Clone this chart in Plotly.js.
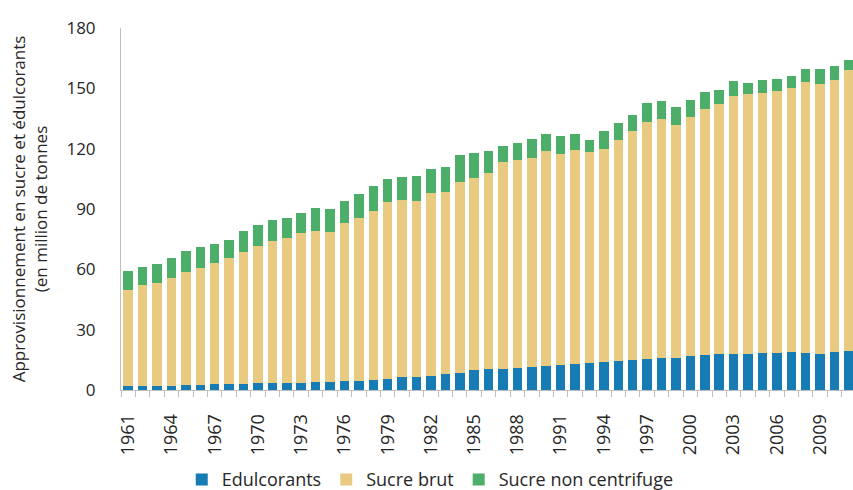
<!DOCTYPE html>
<html>
<head>
<meta charset="utf-8">
<script src="https://cdn.plot.ly/plotly-3.0.1.min.js"></script>
<style>html,body{margin:0;padding:0;background:#fff;}#chart{width:853px;height:490px;}</style>
</head>
<body>
<div id="chart"></div>
<script>
const years = [1961,1962,1963,1964,1965,1966,1967,1968,1969,1970,1971,1972,1973,1974,1975,1976,1977,1978,1979,1980,1981,1982,1983,1984,1985,1986,1987,1988,1989,1990,1991,1992,1993,1994,1995,1996,1997,1998,1999,2000,2001,2002,2003,2004,2005,2006,2007,2008,2009,2010,2011];
const edulcorants = [1.8,1.8,2.0,2.0,2.3,2.3,2.8,3.0,3.2,3.5,3.5,3.5,3.6,3.9,4.0,4.3,4.6,5.1,5.7,6.5,6.7,7.2,7.9,8.7,9.8,10.2,10.4,11.0,11.2,11.8,12.2,12.8,13.2,13.8,14.2,14.7,15.5,16.0,15.8,16.7,17.2,17.7,17.7,17.8,18.3,18.6,18.8,18.3,18.0,18.8,19.3];
const sucreBrut = [48.1,50.3,51.1,53.8,56.5,58.6,60.6,62.4,65.3,68.2,70.8,72.0,74.6,75.1,74.8,78.5,80.8,83.7,87.9,88.1,87.4,90.9,90.7,94.6,95.4,97.8,102.9,103.5,104.3,106.8,105.3,106.3,104.9,105.8,110.2,114.0,117.7,118.9,116.1,118.8,122.3,124.6,128.7,129.5,129.3,130.0,131.6,135.1,134.3,135.5,139.6];
const sucreNonCentrifuge = [9.5,9.2,9.5,9.9,10.4,10.3,9.4,9.4,10.5,10.4,10.1,9.8,9.6,11.4,11.0,11.3,12.2,12.7,11.2,11.2,12.4,11.7,12.2,13.5,12.6,10.9,8.1,8.2,9.1,8.5,8.7,8.3,6.3,9.3,8.6,7.9,9.3,8.9,8.6,8.6,8.6,7.1,7.2,5.5,6.5,6.1,5.6,6.0,7.4,6.7,5.1];
const xTickVals = [1961,1964,1967,1970,1973,1976,1979,1982,1985,1988,1991,1994,1997,2000,2003,2006,2009];
const yTickVals = [0,30,60,90,120,150,180];
const seriesNames = ["Edulcorants","Sucre brut","Sucre non centrifuge"];
const colors = ["#177cb4","#e8ca80","#4dae6a"];

const font = "'Open Sans', Lato, sans-serif";
const dataSeries = [edulcorants, sucreBrut, sucreNonCentrifuge];
const traces = dataSeries.map((vals, i) => ({
  type: "bar",
  x: years,
  y: vals,
  name: seriesNames[i],
  marker: {color: colors[i], line: {width: 0}},
  hoverinfo: "x+y+name"
}));

const layout = {
  width: 853, height: 490,
  margin: {l: 121, r: 0, t: 28, b: 100, autoexpand: false},
  barmode: "stack",
  bargap: 0.34,
  paper_bgcolor: "#fff",
  plot_bgcolor: "#fff",
  font: {family: font, color: "#262626"},
  showlegend: true,
  legend: {
    orientation: "h",
    x: 0.083, xanchor: "left",
    yref: "container",
    y: 0.021, yanchor: "middle",
    font: {size: 18, family: font, color: "#262626"},
    itemwidth: 30,
    traceorder: "normal"
  },
  xaxis: {
    type: "linear",
    range: [1960.5, 2011.28],
    tickmode: "array",
    tickvals: xTickVals,
    ticktext: xTickVals.map(String),
    tickangle: -90,
    ticks: "",
    tickfont: {size: 18, family: font, color: "#262626"},
    showline: true,
    linecolor: "#bfbfbf",
    linewidth: 1,
    showgrid: false,
    zeroline: false,
    ticklabelstandoff: 16,
    minor: {tick0: 1960.5, dtick: 1, ticks: "outside", ticklen: 6, tickcolor: "#bfbfbf", tickwidth: 1, showgrid: false}
  },
  yaxis: {
    range: [0, 180],
    tickmode: "array",
    tickvals: yTickVals,
    ticks: "",
    tickfont: {size: 17, family: font, color: "#262626"},
    showline: true,
    linecolor: "#bfbfbf",
    linewidth: 1,
    showgrid: false,
    zeroline: false,
    ticklabelstandoff: 21,
    title: {
      text: "Approvisionnement en sucre et édulcorants<br>(en million de tonnes",
      font: {size: 17, family: font, color: "#262626"},
      standoff: 14
    }
  }
};

Plotly.newPlot("chart", traces, layout, {displayModeBar: false, staticPlot: true});
</script>
</body>
</html>
